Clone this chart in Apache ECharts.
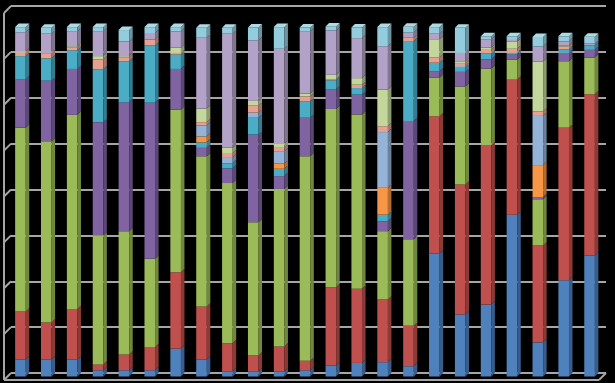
<!DOCTYPE html>
<html><head><meta charset="utf-8">
<script src="https://cdn.jsdelivr.net/npm/echarts@6/dist/echarts.min.js"></script>
<style>html,body{margin:0;padding:0;background:#000}#c{width:615px;height:383px}</style>
</head><body><div id="c"></div>
<script>
// ---- data (stacked bottom to top) ----
const categories = ['1','2','3','4','5','6','7','8','9','10','11','12','13','14','15','16','17','18','19','20','21','22','23'];
const seriesNames = ['S1','S2','S3','S4','S5','S6','S7','S8','S9','S10','S11'];
const s1  = [4.6, 4.6, 4.6, 1.7, 1.7, 1.7, 7.6, 4.6, 1.4, 1.4, 1.4, 1.7, 3.0, 3.7, 3.9, 2.8, 33.5, 16.9, 19.6, 44.1, 9.3, 26.2, 33.0];
const s2  = [13.1, 10.1, 13.8, 1.6, 4.3, 6.3, 20.8, 14.5, 7.7, 4.3, 6.8, 2.6, 21.3, 20.2, 17.1, 11.0, 37.4, 35.4, 43.5, 36.8, 26.4, 41.6, 43.9];
const s3  = [50.1, 49.4, 52.9, 35.1, 33.6, 24.1, 44.3, 40.9, 43.6, 36.3, 42.9, 55.7, 48.6, 47.5, 18.6, 23.6, 10.5, 26.7, 20.8, 5.4, 12.6, 18.1, 10.0];
const s4  = [13.1, 16.5, 12.5, 30.9, 35.1, 42.5, 11.1, 2.3, 4.0, 23.9, 3.5, 10.5, 5.4, 5.4, 2.7, 32.2, 1.8, 4.0, 2.5, 1.4, 0.6, 2.3, 2.1];
const s5  = [6.4, 6.1, 5.1, 14.4, 11.2, 15.6, 3.9, 1.5, 1.4, 4.6, 2.0, 4.5, 2.4, 1.8, 1.8, 21.8, 2.3, 1.1, 1.6, 0.5, 0, 0.9, 1.2];
const s6  = [0, 0, 0, 0, 0, 0, 0, 1.6, 0, 0, 1.4, 0, 0, 0, 7.3, 0, 0, 0, 0, 0, 8.7, 0, 0];
const s7  = [0, 0, 0, 0, 0, 0, 0, 3.0, 1.7, 1.4, 3.4, 0, 0, 0, 15.2, 0, 0, 0.5, 0, 0, 13.4, 0, 0];
const s8  = [1.0, 1.4, 0.7, 2.7, 1.1, 1.6, 0.5, 0.9, 1.1, 1.9, 0.9, 1.3, 0.3, 0.9, 1.6, 0.9, 1.4, 0.8, 1.0, 1.1, 1.2, 0.8, 0];
const s9  = [0.3, 0.1, 0.4, 0.9, 0.3, 0, 1.4, 3.7, 1.4, 1.3, 1.1, 0.8, 1.2, 1.8, 10.0, 0, 5.0, 0.5, 0.6, 1.9, 13.6, 0.3, 0];
const s10 = [5.2, 5.2, 4.1, 6.8, 4.0, 1.8, 4.4, 19.3, 31.1, 16.5, 25.9, 17.0, 12.1, 10.9, 11.8, 1.4, 1.5, 2.3, 2.3, 0.5, 4.1, 1.1, 0.5];
const s11 = [1.4, 1.6, 1.1, 1.1, 3.1, 1.6, 1.2, 2.7, 1.6, 3.5, 5.9, 1.0, 1.1, 2.9, 5.2, 1.6, 1.8, 6.8, 0.8, 1.0, 2.6, 1.4, 1.9];
const seriesValues = [s1, s2, s3, s4, s5, s6, s7, s8, s9, s10, s11];
const yTicks = [0, 12.5, 25, 37.5, 50, 62.5, 75, 87.5, 100];

// ---- styles ----
const seriesColors = ['#4F81BD','#C0504D','#9BBB59','#8064A2','#4BACC6','#F79646','#95B3D7','#E6A191','#C3D69B','#B3A2C7','#93CDDD'];
const GRID = {left: 11, right: 9, top: 6, bottom: 10};
const DX = 3.5, DY = 3.5;      // bar depth
const WALL = 7;                // wall/floor depth
const LINE = '#A6A6A6';

function shade(hex, f) {
  const n = parseInt(hex.slice(1), 16);
  let r = (n >> 16) & 255, g = (n >> 8) & 255, b = n & 255;
  if (f < 1) { r *= f; g *= f; b *= f; }
  else { r += (255 - r) * (f - 1); g += (255 - g) * (f - 1); b += (255 - b) * (f - 1); }
  return 'rgb(' + Math.round(r) + ',' + Math.round(g) + ',' + Math.round(b) + ')';
}

// build stacked intervals
const stacked = seriesValues.map(() => []);
categories.forEach((c, ci) => {
  let acc = 0;
  let lastIdx = -1;
  seriesValues.forEach((arr, si) => { if (arr[ci] > 0) lastIdx = si; });
  seriesValues.forEach((arr, si) => {
    const v = arr[ci];
    stacked[si].push([ci, acc, acc + v, si === lastIdx ? 1 : 0]);
    acc += v;
  });
});

function makeRender(color) {
  const side = shade(color, 0.72), top = shade(color, 1.25);
  return function (params, api) {
    const i = api.value(0), s = api.value(1), e = api.value(2), isTop = api.value(3);
    if (e - s <= 0) return;
    const p0 = api.coord([i, s]), p1 = api.coord([i, e]);
    const band = api.size([1, 0])[0];
    const w = band * 0.41;
    const xl = p0[0] - w / 2 - DX, xr = p0[0] + w / 2 - DX;
    const yb = p0[1] + DY, yt = p1[1] + DY;
    const children = [
      {type: 'rect', shape: {x: xl, y: yt, width: w, height: yb - yt}, style: {fill: color}},
      {type: 'polygon', shape: {points: [[xr, yt], [xr + DX, yt - DY], [xr + DX, yb - DY], [xr, yb]]}, style: {fill: side}}
    ];
    if (isTop) {
      children.push({type: 'polygon', shape: {points: [[xl, yt], [xr, yt], [xr + DX, yt - DY], [xl + DX, yt - DY]]}, style: {fill: top}});
    }
    return {type: 'group', children: children};
  };
}

const chart = echarts.init(document.getElementById('c'), null, {renderer: 'canvas'});
chart.setOption({
  backgroundColor: '#000',
  animation: false,
  grid: {left: GRID.left, right: GRID.right, top: GRID.top, bottom: GRID.bottom},
  xAxis: {type: 'category', data: categories, boundaryGap: true,
    axisLine: {show: false}, axisTick: {show: false}, axisLabel: {show: false}, splitLine: {show: false}},
  yAxis: {type: 'value', min: yTicks[0], max: yTicks[yTicks.length - 1], interval: yTicks[1] - yTicks[0],
    axisLine: {show: false}, axisTick: {show: false}, axisLabel: {show: false},
    splitLine: {show: true, lineStyle: {color: LINE, width: 2}}},
  series: seriesNames.map((name, si) => ({
    name: name, type: 'custom', renderItem: makeRender(seriesColors[si]),
    encode: {x: 0, y: [1, 2]}, data: stacked[si], clip: false
  }))
});

// wall / floor frame derived from the grid's scales
const yPix = v => chart.convertToPixel({yAxisIndex: 0}, v);
const W = chart.getWidth();
const xL = GRID.left, xR = W - GRID.right;
const yBot = yPix(yTicks[0]), yTop = yPix(yTicks[yTicks.length - 1]);
const g = [];
yTicks.forEach(v => {
  const y = yPix(v);
  g.push({type: 'line', shape: {x1: xL, y1: y, x2: xL - WALL, y2: y + WALL}, style: {stroke: LINE, lineWidth: 2}});
});
g.push({type: 'line', shape: {x1: xL - WALL, y1: yTop + WALL, x2: xL - WALL, y2: yBot + WALL}, style: {stroke: LINE, lineWidth: 2}});
g.push({type: 'line', shape: {x1: xL - WALL, y1: yBot + WALL, x2: xR - WALL, y2: yBot + WALL}, style: {stroke: LINE, lineWidth: 2}});
g.push({type: 'line', shape: {x1: xR, y1: yBot, x2: xR - WALL, y2: yBot + WALL}, style: {stroke: LINE, lineWidth: 2}});
chart.setOption({graphic: {elements: g.map(e => Object.assign({z: -1, silent: true}, e))}});
</script>
</body></html>
